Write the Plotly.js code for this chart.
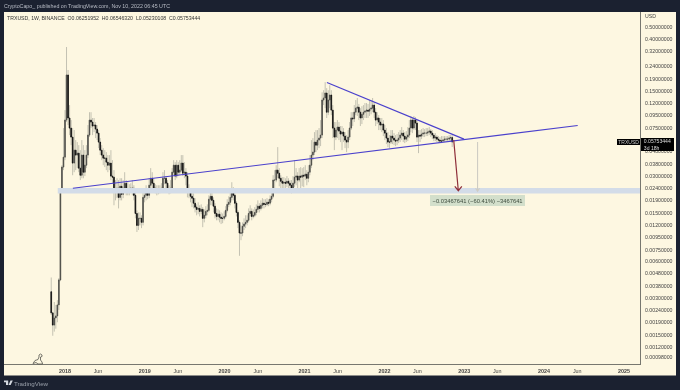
<!DOCTYPE html>
<html><head><meta charset="utf-8">
<script src="https://cdn.plot.ly/plotly-3.0.1.min.js"></script>
<style>html,body{margin:0;padding:0;background:#1b2130}#c{width:680px;height:390px;filter:blur(0.35px)}</style>
</head><body><div id="c"></div>
<script>
const firstWeek = '2017-10-30';
const firstOpen = 0.0034;
const closes = [
.00228,.00181,.00207,.00215,.00265,.00425,.0231,.0358,.0432,.087,
.204,.0905,.0748,.0631,.0386,.0493,.0449,.0466,.0351,.0307,
.0449,.0325,.0371,.0449,.0655,.087,.0838,.0777,.0792,.0734,
.068,.0574,.0493,.0449,.0424,.0424,.0393,.0371,.0386,.0302,
.0296,.0223,.0223,.024,.0202,.0249,.0214,.024,.0264,.0231,
.0236,.0236,.024,.024,.021,.0149,.0119,.0136,.0136,.0126,
.0202,.021,.0223,.021,.0254,.029,.0264,.024,.0236,.0227,
.0231,.0231,.024,.029,.029,.0264,.0236,.0227,.024,
.0325,.0371,.0302,.0371,.0325,.0338,.0386,.0319,.0325,.0302,
.0223,.0231,.0206,.0199,.0181,.0168,.0161,.0164,.0155,.0161,
.0136,.0144,.0155,.0158,.0195,.0206,.0191,.0171,.0149,.0141,
.0147,.0139,.0136,.0136,.0141,.0158,.0177,.0184,.0202,.0223,
.021,.0181,.0152,.0126,.0103,.0103,.0117,.0122,.0126,.0131,
.0149,.0155,.0141,.0144,.0152,.0161,.0171,.0164,.0174,.0181,
.0177,.0177,.0184,.0181,.0195,.0206,.028,.028,.0338,.0319,
.029,.0274,.0264,.0269,.0264,.0274,.0264,.0254,.024,.0264,
.0296,.0302,.028,.0302,.0296,.0307,.0302,.0313,.029,
.0325,.0371,.0449,.0475,.0574,.0542,.0596,.0619,.0655,.127,
.132,.145,.101,.127,.1397,.105,.0748,.0631,.072,.0762,
.0707,.0668,.0693,.0643,.0596,.0574,.0631,.0748,.0905,.089,
.101,.109,.111,.101,.0905,.097,.101,.103,.105,.103,
.107,.109,.1155,.101,.087,.0905,.0838,.0792,.0807,.072,
.068,.0619,.0574,.0574,.0643,.0619,.0596,.0585,.0596,.0619,
.0655,.068,.0643,.0607,.0631,.0655,.0748,.087,.0748,.087,
.0822,.0631,.0655,.0643,.0668,.068,.068,.068,.0693,.0707,
.068,.0655,.0619,.0631,.0607,.0596,.0585,.0585,.0596,.0607,
.0607,.0607,.0619,.0625,.05753];
const highs = [
.00445,.00228,.0028,.00265,.0029,.0044,.024,.0371,.0748,.105,
.346,.224,.1155,.087,.0748,.072,.0596,.0574,.0542,.0493,
.0596,.0542,.0493,.0542,.0792,.101,.101,.0905,.0905,.0838,
.0792,.072,.0619,.0542,.0512,.0493,.0475,.0449,.0449,.0493,
.0408,.0338,.028,.029,.028,.029,.029,.028,.0325,.028,
.0269,.0259,.0264,.028,.0254,.0223,.0158,.0152,.0152,.0144,
.0223,.024,.0254,.024,.029,.0351,.0325,.029,.0259,.0254,
.0254,.0254,.0264,.0325,.0338,.0302,.028,.0254,.028,
.0351,.0408,.0393,.0408,.0393,.0408,.0449,.0449,.0393,.0351,
.0325,.0259,.024,.0231,.0218,.0199,.0177,.0184,.0174,.0177,
.0168,.0161,.0171,.0177,.021,.0223,.0223,.0202,.0181,.0164,
.0161,.0158,.0152,.0149,.0155,.0171,.0195,.0206,.0223,.0269,
.0245,.0218,.0188,.0158,.0131,.0119,.0126,.0136,.0144,.0144,
.0164,.0174,.0164,.0161,.0168,.0177,.0191,.0181,.0191,.0199,
.0195,.0195,.0199,.0195,.021,.0223,.0307,.0338,.0371,.0522,
.0351,.0307,.0296,.0296,.029,.0302,.029,.028,.028,.0302,
.0408,.0351,.0325,.0351,.0358,.0351,.0358,.0371,.0338,
.0371,.0449,.0596,.0619,.0693,.072,.072,.0748,.087,.147,
.153,.178,.159,.153,.168,.153,.1155,.0838,.0838,.087,
.0838,.0777,.0777,.0748,.0693,.0655,.072,.0838,.101,.101,
.1155,.127,.132,.118,.109,.113,.1155,.12,.12,.118,
.127,.127,.132,.1225,.109,.101,.0955,.0905,.0905,.087,
.0792,.0748,.0693,.0655,.072,.072,.068,.0655,.0668,.0693,
.072,.0762,.072,.0693,.0707,.0762,.087,.094,.0905,.094,
.092,.087,.072,.072,.0734,.0748,.0734,.0748,.0748,.0762,
.0734,.072,.068,.068,.0655,.0643,.0631,.0643,.0643,.0643,
.0643,.0643,.0655,.0655,.06546];
const lows = [
.00219,.00148,.0016,.00169,.00191,.00241,.00415,.0223,.0338,.0408,
.0838,.0792,.0655,.0542,.0307,.0325,.0338,.0351,.0325,.028,
.029,.029,.0302,.0351,.0424,.0631,.0748,.0655,.0693,.0619,
.0596,.0512,.0449,.0408,.0371,.0358,.0338,.0325,.0338,.028,
.0264,.0174,.0191,.0199,.0164,.0191,.0191,.0199,.0223,.021,
.021,.021,.0223,.021,.0191,.0136,.0105,.0109,.0119,.0113,
.0119,.0184,.0191,.0195,.0199,.0231,.024,.0223,.0218,.021,
.0214,.0218,.0223,.0231,.0259,.0231,.0223,.0214,.0218,
.0231,.0307,.028,.029,.0302,.0307,.0325,.0302,.029,.0254,
.0202,.0199,.0184,.0168,.0164,.0152,.0144,.0147,.0141,.0147,
.0115,.0126,.0136,.0144,.0152,.0174,.0174,.0152,.0136,.0131,
.0131,.0126,.0122,.0124,.0131,.0136,.0152,.0168,.0174,.0191,
.0191,.0164,.0141,.0113,.0067,.009,.0097,.0109,.0113,.0119,
.0126,.0141,.0131,.0136,.0139,.0144,.0152,.0152,.0158,.0164,
.0164,.0168,.0171,.0171,.0174,.0184,.0199,.024,.0269,.029,
.0249,.0223,.0231,.024,.0231,.0245,.0231,.0223,.0218,.0231,
.0245,.0254,.0231,.0269,.024,.0249,.0245,.028,.0254,
.0269,.0307,.0351,.0408,.0449,.0475,.0493,.0512,.0532,.0619,
.1155,.109,.0905,.0955,.109,.0955,.0619,.0493,.0596,.0619,
.0596,.0574,.0493,.0574,.0512,.0475,.0512,.0596,.072,.0777,
.0838,.0955,.094,.087,.0777,.0807,.087,.0905,.0905,.0905,
.094,.097,.101,.0905,.0777,.0807,.072,.072,.0693,.0643,
.0596,.0553,.0522,.0512,.0553,.0553,.0542,.0532,.0542,.0563,
.0574,.0596,.0574,.0563,.0574,.0585,.0619,.0693,.068,.072,
.072,.0574,.0466,.0574,.0607,.0631,.0631,.0643,.0643,.0655,
.0631,.0607,.0585,.0585,.0574,.0563,.0563,.0563,.0574,.0574,
.0574,.0585,.0585,.0574,.0523];

const priceTicks = [0.5,0.4,0.32,0.24,0.19,0.15,0.12,0.095,0.075,0.06,0.048,0.038,0.03,0.024,0.019,0.015,0.012,0.0095,0.0075,0.006,0.0048,0.0038,0.003,0.0024,0.0019,0.0015,0.0012,0.00098];
const timeTicks = ['2018-01-01','2018-06-01','2019-01-01','2019-06-01','2020-01-01','2020-06-01','2021-01-01','2021-06-01','2022-01-01','2022-06-01','2023-01-01','2023-06-01','2024-01-01','2024-06-01','2025-01-01'];
const timeLabels = ['<b>2018</b>','Jun','<b>2019</b>','Jun','<b>2020</b>','Jun','<b>2021</b>','Jun','<b>2022</b>','Jun','<b>2023</b>','Jun','<b>2024</b>','Jun','<b>2025</b>'];

const risingX = ['2018-02-06','2024-06-03'], risingY = [.024,.0785];
const fallingX = ['2021-04-13','2022-12-31'], fallingY = [.177,.0607];
const bandX = ['2017-11-29','2025-03-15'], bandY = [.0229,.0229];
const redX = ['2022-11-14','2022-12-05','2022-11-19','2022-12-05','2022-12-21'], redY = [.0596,.0229,.0249,.0229,.0249];
const measureX = ['2023-03-03','2023-03-03','2023-02-22','2023-03-03','2023-03-12'], measureY = [.0574,.0227,.024,.0227,.024];

const dates = closes.map((_, i) => new Date(Date.parse(firstWeek + 'T00:00:00Z') + i * 7 * 864e5).toISOString().slice(0, 10));
const opens = closes.map((_, i) => i ? closes[i - 1] : firstOpen);
const bodyTop = closes.map((c, i) => Math.max(c, opens[i]));
const bodyBot = closes.map((c, i) => Math.min(c, opens[i]));

const CREAM = '#fdf7e1', DARK = '#1b2130', FONT = '"Liberation Sans", Arial, sans-serif';
const px = x => (x - 4) / 636, py = y => (364 - y) / 352;
const box = (x0, y0, x1, y1, c) => ({type:'rect', xref:'paper', yref:'paper', layer:'below', x0:px(x0), x1:px(x1), y0:py(y0), y1:py(y1), fillcolor:c, line:{width:0}});
const poly = (pts, o) => ({type:'path', xref:'paper', yref:'paper', path:pts.map((p,i)=>(i?'L':'M')+px(p[0])+','+py(p[1])).join(' ')+(o.close?' Z':''), fillcolor:o.fill||'rgba(0,0,0,0)', line:{color:o.color||'rgba(0,0,0,0)', width:o.width||0}});
const line = (x, y, color, width) => ({type:'scatter', mode:'lines', x, y, line:{color, width}, hoverinfo:'skip', showlegend:false});
const note = (x, y, text, o={}) => Object.assign({xref:'paper', yref:'paper', x:px(x), y:py(y), text, showarrow:false, xanchor:'left', yanchor:'middle', font:{family:FONT, size:5.4, color:'#444'}, borderpad:0, borderwidth:0}, o);

const traces = [
  line(bandX, bandY, '#d3dce8', 5.5),
  {type:'candlestick', x:dates, open:closes, close:closes, high:highs, low:lows,
   increasing:{line:{color:'#c4c2b2', width:1}, fillcolor:'#c4c2b2'}, decreasing:{line:{color:'#c4c2b2', width:1}, fillcolor:'#c4c2b2'},
   whiskerwidth:0, hoverinfo:'skip', showlegend:false},
  {type:'candlestick', x:dates, open:opens, close:closes, high:bodyTop, low:bodyBot,
   increasing:{line:{color:'#4a4a46', width:0.7}, fillcolor:'#4a4a46'}, decreasing:{line:{color:'#111', width:0.8}, fillcolor:'#111'},
   whiskerwidth:0, hoverinfo:'skip', showlegend:false},
  line(risingX, risingY, '#4a40cc', 1.2),
  line(fallingX, fallingY, '#4a40cc', 1.2),
  line(measureX, measureY, '#cfcdc4', 1.1),
  line(redX, redY, '#8f2f3a', 1.2)
];

const layout = {
  width:680, height:390, autosize:false, paper_bgcolor:DARK, plot_bgcolor:CREAM, showlegend:false,
  margin:{l:4, r:39.5, t:12, b:26, pad:0}, dragmode:false,
  xaxis:{type:'date', range:['2017-03-28','2025-03-15'], tickmode:'array', tickvals:timeTicks, ticktext:timeLabels,
    showgrid:false, zeroline:false, showline:true, linecolor:'#77776f', linewidth:1, ticks:'outside', ticklen:2, tickcolor:'rgba(0,0,0,0)',
    tickfont:{family:FONT, size:5.4, color:'#444'}, rangeslider:{visible:false}},
  yaxis:{type:'log', side:'right', range:[-3.0615,-0.17388], tickmode:'array', tickvals:priceTicks, ticktext:priceTicks.map(v=>v.toFixed(8)),
    showgrid:false, zeroline:false, showline:true, linecolor:'#77776f', linewidth:1, ticks:'outside', ticklen:3, tickcolor:'rgba(0,0,0,0)',
    tickfont:{family:FONT, size:5.2, color:'#444'}},
  shapes:[
    box(640,12,676,375.5,CREAM), box(4,364,640,375.5,CREAM),
    poly([[39,355],[40.5,354],[42,355],[42,356.5],[40.5,357],[40.5,360],[42,362],[42.5,364],[38,364],[36,362.5],[33,363.5],[35,360.5],[38,359.5],[39,357]],{close:true,color:'#55554f',width:0.8,fill:CREAM}),
    poly([[4,380.5],[8.2,380.5],[8.2,385],[6,385],[6,382.2],[4,382.2]],{close:true,fill:'#d5d9e0'}),
    poly([[10.5,380.5],[12.8,380.5],[10.6,385],[8.6,385]],{close:true,fill:'#d5d9e0'})
  ],
  annotations:[
    note(4,6,'CryptoCapo_ published on TradingView.com, Nov 10, 2022 06:45 UTC',{font:{family:FONT,size:5.3,color:'#b9bdc6'}}),
    note(7,18,'TRXUSD, 1W, BINANCE  O0.06251952  H0.06546320  L0.05230108  C0.05753444',{font:{family:FONT,size:5.2,color:'#333'}}),
    note(14,383,'TradingView',{font:{family:FONT,size:6.2,color:'#9aa0aa'}}),
    note(645,16,'USD',{font:{family:FONT,size:5.2,color:'#444'}}),
    note(617,142,' TRXUSD ',{bgcolor:'#000',font:{family:FONT,size:5,color:'#ccc'}}),
    note(641,144,'  0.05753444  <br>  3d 18h',{bgcolor:'#000',align:'left',font:{family:FONT,size:5.1,color:'#ddd'}}),
    note(478,201,'−0.03467641 (−60.41%) −3467641',{xanchor:'center',bgcolor:'#d3dfcb',font:{family:FONT,size:5.8,color:'#3c4a3c'},borderpad:2.5})
  ]
};
Plotly.newPlot('c', traces, layout, {displayModeBar:false, staticPlot:true});
</script></body></html>
